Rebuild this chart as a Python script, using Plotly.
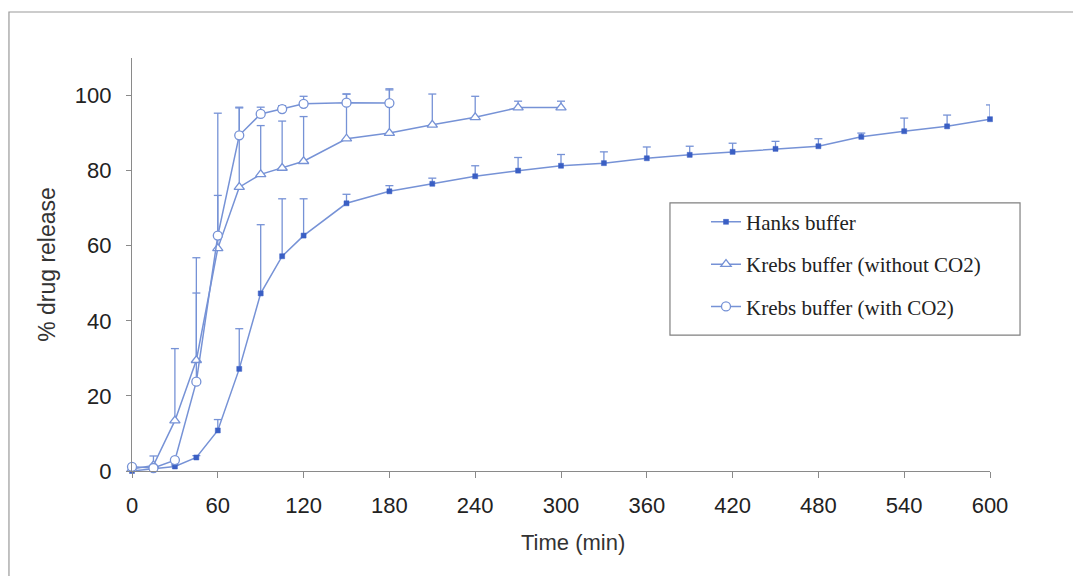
import plotly.graph_objects as go

# ---------------- data ----------------
hanks_t = [0, 15, 30, 45, 60, 75, 90, 105, 120, 150, 180, 210, 240, 270, 300,
           330, 360, 390, 420, 450, 480, 510, 540, 570, 600]
hanks_v = [0.0, 0.5, 1.2, 3.6, 10.8, 27.2, 47.3, 57.2, 62.7, 71.3, 74.5, 76.5, 78.5, 80.0, 81.3,
           82.0, 83.3, 84.2, 85.0, 85.8, 86.5, 89.0, 90.5, 91.8, 93.7]
hanks_e = [0.0, 0.3, 0.4, 0.5, 2.9, 10.7, 18.3, 15.3, 9.8, 2.4, 1.5, 1.5, 2.8, 3.5, 3.0,
           3.0, 3.0, 2.3, 2.3, 2.0, 2.0, 1.0, 3.5, 3.0, 3.8]

krebs_no_t = [0, 15, 30, 45, 60, 75, 90, 105, 120, 150, 180, 210, 240, 270, 300]
krebs_no_v = [0.5, 1.5, 13.4, 29.5, 59.3, 75.6, 79.0, 80.7, 82.5, 88.5, 90.0, 92.2, 94.2, 96.8, 96.8]
krebs_no_e = [0.0, 2.5, 19.2, 27.3, 36.0, 21.3, 13.0, 12.5, 11.9, 11.9, 11.5, 8.2, 5.6, 1.7, 1.7]

krebs_co2_t = [0, 15, 30, 45, 60, 75, 90, 105, 120, 150, 180]
krebs_co2_v = [1.1, 0.8, 2.9, 23.8, 62.7, 89.4, 95.1, 96.4, 97.8, 98.1, 98.0]
krebs_co2_e = [0.0, 0.3, 0.5, 23.6, 10.7, 7.3, 1.8, 0.9, 2.0, 2.3, 3.8]

names = ["Hanks buffer", "Krebs buffer (without CO2)", "Krebs buffer (with CO2)"]
x_ticks = [0, 60, 120, 180, 240, 300, 360, 420, 480, 540, 600]
y_ticks = [0, 20, 40, 60, 80, 100]
x_title = "Time (min)"
y_title = "% drug release"

LINE = "#7692d6"
MARK = "#3a5fc4"
CAP_HALF = 2.8  # minutes, half-width of the error-bar caps

fig = go.Figure()


def err_trace(ts, vs, es):
    xs, ys = [], []
    for t, v, e in zip(ts, vs, es):
        if e <= 0:
            continue
        xs += [t, t, None, t - CAP_HALF, t + CAP_HALF, None]
        ys += [v, v + e, None, v + e, v + e, None]
    return go.Scatter(x=xs, y=ys, mode="lines", line=dict(color=LINE, width=1.3),
                      showlegend=False, hoverinfo="skip", cliponaxis=False)


fig.add_trace(err_trace(hanks_t, hanks_v, hanks_e))
fig.add_trace(err_trace(krebs_no_t, krebs_no_v, krebs_no_e))
fig.add_trace(err_trace(krebs_co2_t, krebs_co2_v, krebs_co2_e))

fig.add_trace(go.Scatter(
    x=hanks_t, y=hanks_v, name=names[0], mode="lines+markers", legendgroup="a",
    line=dict(color=LINE, width=1.5),
    marker=dict(symbol="square", size=5, color=MARK, line=dict(color=MARK, width=0.5)),
    cliponaxis=False))
fig.add_trace(go.Scatter(
    x=krebs_no_t, y=krebs_no_v, name=names[1], mode="lines+markers", legendgroup="b",
    line=dict(color=LINE, width=1.5),
    marker=dict(symbol="triangle-up", size=9, color="white", line=dict(color=LINE, width=1.3)),
    cliponaxis=False))
fig.add_trace(go.Scatter(
    x=krebs_co2_t, y=krebs_co2_v, name=names[2], mode="lines+markers", legendgroup="c",
    line=dict(color=LINE, width=1.5),
    marker=dict(symbol="circle", size=9, color="white", line=dict(color=LINE, width=1.3)),
    cliponaxis=False))

# outer frame (left and top edges visible)
fig.add_shape(type="rect", xref="paper", yref="paper",
              x0=-0.1434, x1=1.3, y0=-0.6, y1=1.1114,
              line=dict(color="#9a9a9a", width=1.2), fillcolor="rgba(0,0,0,0)", layer="below")
# legend box
fig.add_shape(type="rect", xref="paper", yref="paper",
              x0=0.627, x1=1.035, y0=0.329, y1=0.649,
              line=dict(color="#808080", width=1.2), fillcolor="white", layer="below")

fig.add_annotation(text=x_title, xref="paper", yref="paper", x=0.514, y=-0.174,
                   xanchor="center", yanchor="middle", showarrow=False,
                   font=dict(family="Liberation Sans, Arial", size=22, color="#333333"))

fig.update_layout(
    width=1073, height=576,
    margin=dict(l=132, r=83, t=58, b=105),
    paper_bgcolor="white", plot_bgcolor="white",
    font=dict(family="Liberation Sans, Arial", color="#222222", size=22),
    showlegend=True,
    legend=dict(
        x=0.669, y=0.652, xanchor="left", yanchor="top",
        bgcolor="rgba(0,0,0,0)", borderwidth=0,
        font=dict(family="Liberation Serif, Times New Roman", size=21, color="#222222"),
        traceorder="grouped", tracegroupgap=12, itemwidth=30,
    ),
    xaxis=dict(
        range=[0, 600], tickvals=x_ticks, ticktext=[str(t) for t in x_ticks],
        showgrid=False, zeroline=False, showline=True, linecolor="#8a8a8a", linewidth=1.2,
        ticks="outside", ticklen=6, tickcolor="#8a8a8a", ticklabelstandoff=8,
        tickfont=dict(size=22, color="#222222"),
    ),
    yaxis=dict(
        range=[0, 110], tickvals=y_ticks,
        showgrid=False, zeroline=False, showline=True, linecolor="#8a8a8a", linewidth=1.2,
        ticks="outside", ticklen=5, tickcolor="#8a8a8a", ticklabelstandoff=10,
        tickfont=dict(size=22, color="#222222"),
        title=dict(text=y_title, font=dict(size=23, color="#333333"), standoff=12),
    ),
)

fig.write_html("out.html", config={"displayModeBar": False},
               post_script="document.body.style.margin='0';")
